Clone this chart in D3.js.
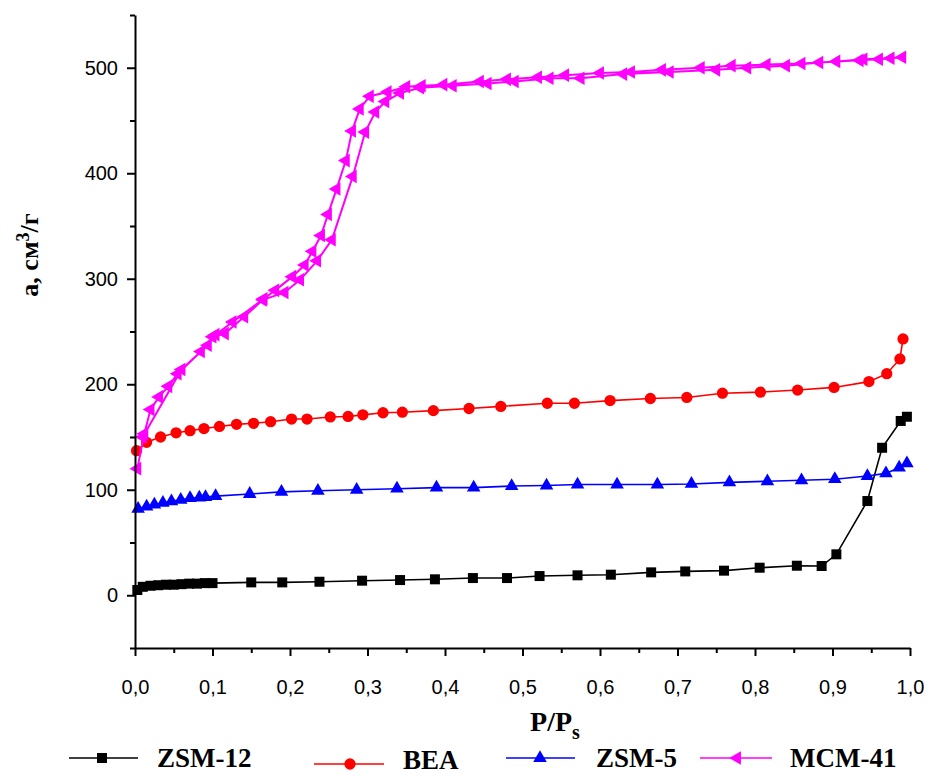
<!DOCTYPE html>
<html><head><meta charset="utf-8">
<script src="https://cdn.jsdelivr.net/npm/d3@7"></script>
<style>body{margin:0;background:#fff}svg{display:block}</style>
</head><body><svg id="c" width="932" height="776"></svg>
<script>
// ---- data ----
const zsm12P = [0.003,0.01,0.02,0.03,0.04,0.05,0.06,0.07,0.08,0.09,0.1,0.15,0.19,0.238,0.293,0.342,0.387,0.436,0.48,0.522,0.571,0.614,0.666,0.71,0.76,0.806,0.854,0.886,0.905,0.945,0.964,0.988,0.996];
const zsm12V = [5,8,9,9.5,10,10,10.5,11,11,11.5,11.5,12.2,12.2,12.8,13.8,14.4,15.1,16.3,16.3,18.2,18.9,19.5,21.7,22.6,23.3,26.1,28,27.7,38.8,89.3,139.8,165.2,169.2];

const beaP = [0.002,0.015,0.033,0.053,0.071,0.089,0.109,0.131,0.153,0.175,0.202,0.222,0.252,0.275,0.294,0.32,0.345,0.385,0.431,0.472,0.532,0.567,0.613,0.665,0.712,0.758,0.807,0.855,0.902,0.947,0.97,0.987,0.991];
const beaV = [137,145,150,154,156,158,160,162,163,164.5,167,167,169,169.5,171,173,173.5,175,177,179,182,182,184.5,186.5,187.5,191.5,192.5,194.5,197,202.5,210,224,243];

const zsm5P = [0.004,0.015,0.025,0.036,0.047,0.059,0.071,0.083,0.091,0.104,0.148,0.189,0.236,0.286,0.338,0.389,0.437,0.486,0.531,0.571,0.622,0.674,0.718,0.767,0.816,0.86,0.903,0.945,0.969,0.986,0.996];
const zsm5V = [82,84,86,87.5,89,90.5,92,92.5,93,94,96,98,99,100,101,102,102,103.5,104,105,105,105,105.5,107,108,109,110,113,115.5,121,125];

// MCM-41: adsorption branch then desorption branch
const mcmAdsP = [0.003,0.012,0.02,0.031,0.043,0.055,0.085,0.1,0.116,0.141,0.165,0.193,0.213,0.235,0.254,0.281,0.297,0.31,0.323,0.342,0.368,0.41,0.455,0.49,0.535,0.575,0.63,0.69,0.75,0.79,0.84,0.883,0.935,0.96,0.99];
const mcmAdsV = [120,153,176,188,198,210,231,245,248,264,280,287,299,317,337,397,439,458,468,476,481,483,485,487,490,490,494,496,498,500,502,505,507,508,510];
const mcmDesP = [0.975,0.94,0.905,0.86,0.815,0.77,0.73,0.68,0.64,0.6,0.555,0.52,0.48,0.445,0.398,0.37,0.35,0.326,0.303,0.29,0.28,0.272,0.26,0.249,0.24,0.229,0.219,0.203,0.181,0.166,0.126,0.104,0.094,0.06,0.01];
const mcmDesV = [509,508,506,504,503,502,500,498,496,495,493,491,489,487,484,483,482,477,473,461,440,412,385,361,341,326,313,302,289,281,259,247,237,214,150];

const xTicks = [0,0.1,0.2,0.3,0.4,0.5,0.6,0.7,0.8,0.9,1.0];
const yTicks = [0,100,200,300,400,500];
const seriesNames = ["ZSM-12","BEA","ZSM-5","MCM-41"];
const seriesColors = ["#000000","#ff0000","#0000ff","#ff00ff"];

// ---- drawing ----
const svg = d3.select("#c");
const x = d3.scaleLinear().domain([0,1]).range([135,910]);
const y = d3.scaleLinear().domain([-50,550]).range([648,15]);

const zip = (P,V) => P.map((p,i)=>({p, v:V[i]}));
const series = [
  {data: zip(zsm12P,zsm12V), sym: "square"},
  {data: zip(beaP,beaV), sym: "circle"},
  {data: zip(zsm5P,zsm5V), sym: "triangle"},
  {data: zip(mcmAdsP,mcmAdsV).concat(zip(mcmDesP,mcmDesV)), sym: "left"}
];

function symPath(sym){
  if(sym==="square") return d3.symbol(d3.symbolSquare, 100)();
  if(sym==="circle") return d3.symbol(d3.symbolCircle, 100)();
  return d3.symbol(d3.symbolTriangle, 80)();
}
function symTransform(sym, cx, cy){
  return sym==="left" ? `translate(${cx},${cy}) rotate(-90)` : `translate(${cx},${cy})`;
}

const line = d3.line().x(d=>x(d.p)).y(d=>y(d.v));
series.forEach((s,i)=>{
  const g = svg.append("g");
  g.append("path").attr("d", line(s.data)).attr("fill","none")
    .attr("stroke", seriesColors[i]).attr("stroke-width", i===3?2:1.6);
  g.selectAll("path.m").data(s.data).enter().append("path").attr("class","m")
    .attr("d", symPath(s.sym))
    .attr("transform", d=>symTransform(s.sym, x(d.p), y(d.v)))
    .attr("fill", seriesColors[i]);
});

// axes
const fmtX = d => d.toFixed(1).replace(".",",");
const xMinor = d3.range(0,1.0001,0.05).filter(v=>Math.abs(v*10-Math.round(v*10))>1e-6);
const yMinor = d3.range(-50,551,50).filter(v=>v%100!==0);

svg.append("g").attr("transform","translate(0,648)")
  .call(d3.axisBottom(x).tickValues(xTicks).tickFormat(fmtX).tickSize(8).tickSizeOuter(0).tickPadding(24));
svg.append("g").attr("transform","translate(0,648)")
  .call(d3.axisBottom(x).tickValues(xMinor).tickFormat("").tickSize(5).tickSizeOuter(0))
  .select(".domain").remove();
svg.append("g").attr("transform","translate(135,0)")
  .call(d3.axisLeft(y).tickValues(yTicks).tickSize(8).tickSizeOuter(0).tickPadding(9));
svg.append("g").attr("transform","translate(135,0)")
  .call(d3.axisLeft(y).tickValues(yMinor).tickFormat("").tickSize(5).tickSizeOuter(0))
  .select(".domain").remove();

svg.selectAll(".domain").attr("stroke","#000").attr("stroke-width",2);
svg.selectAll(".tick line").attr("stroke","#000").attr("stroke-width",2);
svg.selectAll(".tick text").attr("font-family","'Liberation Sans', Arial, sans-serif")
  .attr("font-size",20).attr("fill","#000");

// axis titles
const serif = "'Liberation Serif','Times New Roman',serif";
const yt = svg.append("text").attr("transform","translate(38,255) rotate(-90)")
  .attr("text-anchor","middle").attr("font-family",serif).attr("font-weight","bold").attr("font-size",26);
yt.append("tspan").text("a, см");
yt.append("tspan").attr("dy",-9).attr("font-size",18).text("3");
yt.append("tspan").attr("dy",9).text("/г");

const xt = svg.append("text").attr("x",555).attr("y",731).attr("text-anchor","middle")
  .attr("font-family",serif).attr("font-weight","bold").attr("font-size",28);
xt.append("tspan").text("P/P");
xt.append("tspan").attr("dy",8).attr("font-size",20).text("s");

// legend
const legendLayout = [
  {x0:69, mx:102, x1:138, ly:758, tx:157, ty:767},
  {x0:314, mx:350, x1:384, ly:764, tx:403, ty:769},
  {x0:506, mx:540, x1:575, ly:758, tx:596, ty:767},
  {x0:700, mx:737, x1:772, ly:758, tx:790, ty:767}
];
legendLayout.forEach((L,i)=>{
  const g = svg.append("g");
  g.append("line").attr("x1",L.x0).attr("x2",L.x1).attr("y1",L.ly).attr("y2",L.ly)
    .attr("stroke",seriesColors[i]).attr("stroke-width",1.6);
  g.append("path").attr("d",symPath(series[i].sym))
    .attr("transform",symTransform(series[i].sym,L.mx,L.ly)).attr("fill",seriesColors[i]);
  g.append("text").attr("x",L.tx).attr("y",L.ty).attr("font-family",serif)
    .attr("font-weight","bold").attr("font-size",27).attr("fill","#000").text(seriesNames[i]);
});
</script></body></html>
